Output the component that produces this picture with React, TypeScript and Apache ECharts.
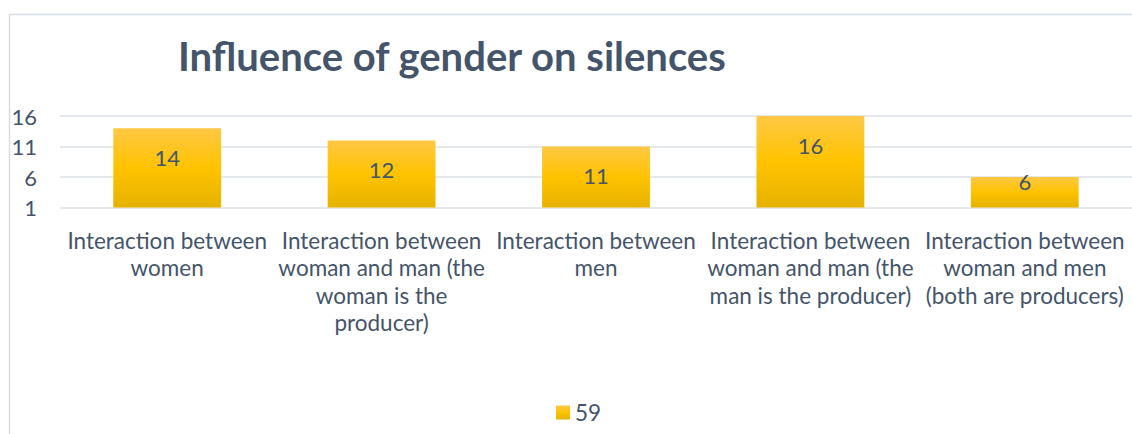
import React, { useEffect, useRef } from "react";
import * as echarts from "echarts";

const titleText = "Influence of gender on silences";
const categories = [
  "Interaction between\nwomen",
  "Interaction between\nwoman and man (the\nwoman is the\nproducer)",
  "Interaction between\nmen",
  "Interaction between\nwoman and man (the\nman is the producer)",
  "Interaction between\nwoman and men\n(both are producers)",
];
const values = [14, 12, 11, 16, 6];
const seriesName = "59";
const yMin = 1;
const yMax = 16;
const yInterval = 5;

const FONT = "Lato";
const TEXT = "#44546A";

export default function App() {
  const ref = useRef<HTMLDivElement>(null);
  useEffect(() => {
    const chart = echarts.init(ref.current!, null, { renderer: "svg" });
    const barColor = new echarts.graphic.LinearGradient(0, 0, 0, 1, [
      { offset: 0, color: "#FFC845" },
      { offset: 0.5, color: "#FFC300" },
      { offset: 1, color: "#E6B200" },
    ]);
    chart.setOption({
      animation: false,
      backgroundColor: "#ffffff",
      title: {
        text: titleText,
        left: 173,
        top: 31,
        textStyle: { fontFamily: FONT, fontWeight: "bold", fontSize: 40, color: TEXT },
      },
      graphic: [
        {
          type: "rect",
          shape: { x: 9.5, y: 14.5, width: 1140, height: 440 },
          style: { fill: "none", stroke: "#D9DDE3", lineWidth: 1.5 },
          silent: true,
        },
      ],
      legend: {
        data: [seriesName],
        left: 551,
        top: 396,
        itemWidth: 14,
        itemHeight: 14,
        itemGap: 6,
        textStyle: { fontFamily: FONT, fontSize: 22.5, color: TEXT },
        icon: "rect",
      },
      grid: { left: 60, right: 0, top: 116, bottom: 434 - 207.5 },
      xAxis: {
        type: "category",
        data: categories,
        axisLine: { show: false },
        axisTick: { show: false },
        axisLabel: {
          interval: 0,
          margin: 19,
          fontFamily: FONT,
          fontSize: 22.5,
          lineHeight: 27.5,
          color: TEXT,
          align: "center",
        },
      },
      yAxis: {
        type: "value",
        min: yMin,
        max: yMax,
        interval: yInterval,
        axisLine: { show: false },
        axisTick: { show: false },
        axisLabel: { margin: 23, fontFamily: FONT, fontSize: 22, color: TEXT },
        splitLine: { lineStyle: { color: "#DDE1E7", width: 1.5 } },
      },
      series: [
        {
          name: seriesName,
          type: "bar",
          barWidth: "50.3%",
          data: values.map((v) =>
            v < 8 ? { value: v, label: { distance: -7 } } : v
          ),
          itemStyle: { color: barColor },
          label: {
            show: true,
            position: "insideTop",
            distance: 18,
            fontFamily: FONT,
            fontSize: 22,
            color: TEXT,
          },
        },
      ],
    });
    return () => chart.dispose();
  }, []);
  return (
    <div
      ref={ref}
      style={{ position: "fixed", left: 0, top: 0, width: 1132, height: 434 }}
    />
  );
}
